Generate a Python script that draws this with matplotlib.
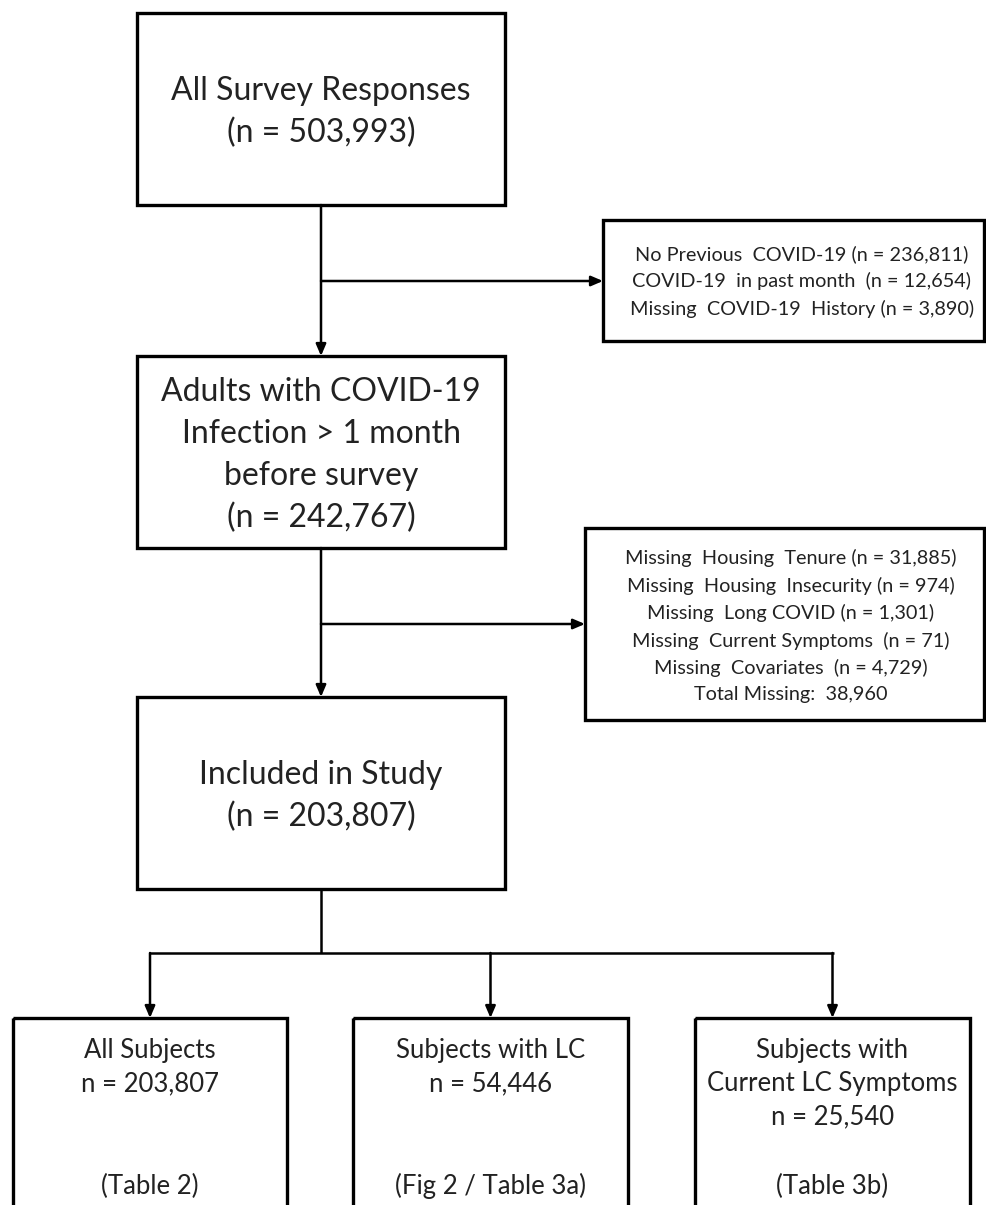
import matplotlib
matplotlib.use("Agg")
import matplotlib.pyplot as plt
from matplotlib.patches import Rectangle

plt.rcParams['font.family'] = ['Lato', 'DejaVu Sans']

# ---------------- data ----------------
stage_labels = ["All Survey Responses",
                "Adults with COVID-19\nInfection > 1 month\nbefore survey",
                "Included in Study"]
stage_counts = [503993, 242767, 203807]

excl1_reasons = ["No Previous  COVID-19", "COVID-19  in past month ", "Missing  COVID-19  History"]
excl1_counts = [236811, 12654, 3890]

excl2_reasons = ["Missing  Housing  Tenure", "Missing  Housing  Insecurity", "Missing  Long COVID",
                 "Missing  Current Symptoms ", "Missing  Covariates "]
excl2_counts = [31885, 974, 1301, 71, 4729]
total_missing = 38960

subgroup_titles = ["All Subjects", "Subjects with LC", "Subjects with\nCurrent LC Symptoms"]
subgroup_counts = [203807, 54446, 25540]
subgroup_refs = ["(Table 2)", "(Fig 2 / Table 3a)", "(Table 3b)"]

# ---------------- layout (pixel coordinates) ----------------
W, H = 987, 1205
fig = plt.figure(figsize=(W / 100, H / 100), dpi=100)
ax = fig.add_axes([0, 0, 1, 1])
ax.set_xlim(0, W)
ax.set_ylim(H, 0)
ax.axis('off')

BOX_LW = 2.4
LINE_LW = 1.8
TXT = '#222222'


def box(x0, y0, x1, y1):
    ax.add_patch(Rectangle((x0, y0), x1 - x0, y1 - y0, fill=False,
                           edgecolor='black', linewidth=BOX_LW, zorder=3))


def line(xs, ys):
    ax.plot(xs, ys, color='black', linewidth=LINE_LW, solid_capstyle='butt', zorder=2)


def arrow(x0, y0, x1, y1):
    ax.annotate('', xy=(x1, y1), xytext=(x0, y0),
                arrowprops=dict(arrowstyle='-|>,head_length=0.7,head_width=0.3',
                                color='black', lw=LINE_LW, shrinkA=0, shrinkB=0),
                zorder=4)


cx = 321
main_boxes = [(137, 13, 505, 205), (137, 356, 505, 548), (137, 697, 505, 889)]
for (x0, y0, x1, y1), lab, n in zip(main_boxes, stage_labels, stage_counts):
    box(x0, y0, x1, y1)
    ax.text((x0 + x1) / 2, (y0 + y1) / 2 + 3, f"{lab}\n(n = {n:,})", ha='center', va='center',
            fontsize=23, linespacing=1.5, color=TXT)

# exclusion box 1
ex1 = (603, 220, 984, 341)
box(*ex1)
txt1 = "\n".join(f"{r} (n = {n:,})" for r, n in zip(excl1_reasons, excl1_counts))
ax.text(802, (ex1[1] + ex1[3]) / 2 + 1, txt1, ha='center', va='center', fontsize=14.3,
        linespacing=1.62, color=TXT)

# exclusion box 2
ex2 = (585, 528, 984, 720)
box(*ex2)
txt2 = "\n".join(f"{r} (n = {n:,})" for r, n in zip(excl2_reasons, excl2_counts))
txt2 += f"\nTotal Missing:  {total_missing:,}"
ax.text(791, (ex2[1] + ex2[3]) / 2 + 2, txt2, ha='center', va='center', fontsize=14.3,
        linespacing=1.62, color=TXT)

# connectors between main boxes
arrow(cx, 205, cx, 356)
arrow(cx, 281, ex1[0], 281)
arrow(cx, 548, cx, 697)
arrow(cx, 624, ex2[0], 624)

# split to subgroups
split_y = 953
sub_boxes = [(13, 1018, 287, 1215), (353, 1018, 628, 1215), (695, 1018, 970, 1215)]
sub_cx = [(b[0] + b[2]) / 2 for b in sub_boxes]
line([cx, cx], [889, split_y])
line([sub_cx[0] - 1, sub_cx[-1] + 1], [split_y, split_y])
for x in sub_cx:
    arrow(x, split_y, x, 1018)

for (x0, y0, x1, y1), t, n, r in zip(sub_boxes, subgroup_titles, subgroup_counts, subgroup_refs):
    box(x0, y0, x1, y1)
    xc = (x0 + x1) / 2
    ax.text(xc, 1038, f"{t}\nn = {n:,}", ha='center', va='top', fontsize=18.5,
            linespacing=1.42, color=TXT)
    ax.text(xc, 1186, r, ha='center', va='center', fontsize=18.5, color=TXT)

fig.savefig("out.png", dpi=100, facecolor='white')
